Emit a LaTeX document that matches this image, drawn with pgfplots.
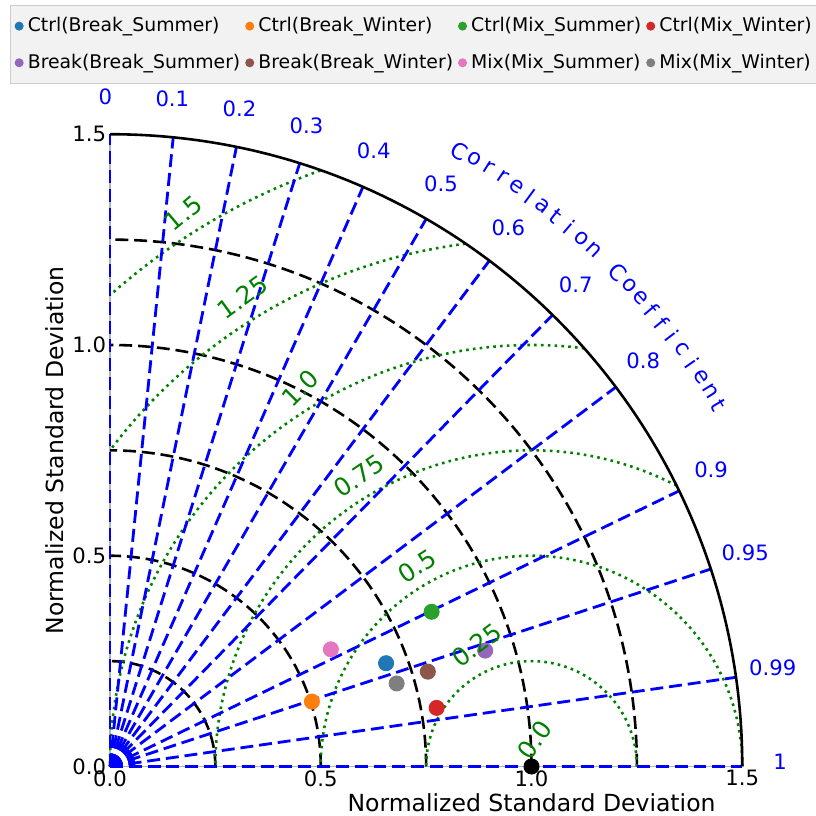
\documentclass[border=0pt]{standalone}
\usepackage{fontspec}
\setmainfont{DejaVu Sans}
\usepackage{pgfplots}
\pgfplotsset{compat=1.18}
\def\tdu{179.14pt}
\definecolor{c1}{HTML}{1F77B4}
\definecolor{c2}{HTML}{FF7F0E}
\definecolor{c3}{HTML}{2CA02C}
\definecolor{c4}{HTML}{D62728}
\definecolor{c5}{HTML}{9467BD}
\definecolor{c6}{HTML}{8C564B}
\definecolor{c7}{HTML}{E377C2}
\definecolor{c8}{HTML}{7F7F7F}
\definecolor{mgreen}{HTML}{008000}
\definecolor{mblue}{HTML}{0000FF}
\begin{document}
\begin{tikzpicture}
\useasboundingbox (-46.75pt,-21.04pt) rectangle (300.05pt,325.76pt);
% ---- grid (behind data) ----
\begin{scope}[x=\tdu,y=\tdu]
  \draw[gray!60, line width=0.6pt] (0,1.5) -- (0,0) -- (1.5,0);
  % std-dev arcs
  \foreach \r in {0.25,0.5,0.75,1.0,1.25}
    \draw[black, line width=1.1pt, dash pattern=on 5.5pt off 2.5pt] (\r,0) arc[start angle=0, end angle=90, radius=\r];
  % RMS arcs
  \foreach \d/\a/\b in {0.25/0/180, 0.5/0/180, 0.75/62.7/180, 1.0/82.8/180, 1.25/97.2/143.1, 1.5/109.5/131.8}
    \draw[mgreen, line width=1.1pt, dash pattern=on 1.1pt off 1.8pt] ([shift={(1,0)}]\a:\d) arc[start angle=\a, end angle=\b, radius=\d];
  % correlation lines
  \foreach \cv in {0,0.1,0.2,0.3,0.4,0.5,0.6,0.7,0.8,0.9,0.95,0.99,1}
    \draw[mblue, line width=1.2pt, dash pattern=on 5.5pt off 2.5pt] (0,0) -- ({acos(\cv)}:1.5);
  \foreach \t in {0,2,...,90}
    \draw[mblue, line width=0.8pt, dash pattern=on 5.5pt off 2.5pt] (0,0) -- (\t:0.06);
  % outer arc
  \draw[black, line width=1.1pt] (1.5,0) arc[start angle=0, end angle=90, radius=1.5];
\end{scope}
\begin{axis}[
  x=\tdu, y=\tdu, scale only axis,
  xmin=0, xmax=1.5, ymin=0, ymax=1.5,
  clip=false,
  axis x line*=bottom, axis y line*=left,
  axis line style={draw=none},
  major tick length=0pt,
  xtick={0,0.5,1,1.5}, xticklabels={0.0,0.5,1.0,1.5},
  ytick={0,0.5,1,1.5}, yticklabels={0.0,0.5,1.0,1.5},
  tick label style={font=\fontsize{9}{10}\selectfont},
  xticklabel style={inner sep=1.5pt},
  yticklabel style={inner sep=1.5pt},
  xlabel={Normalized Standard Deviation},
  ylabel={Normalized Standard Deviation},
  label style={font=\fontsize{10}{12}\selectfont},
  xlabel style={at={(axis description cs:0.6667,-0.0577)}, anchor=center},
  ylabel style={at={(axis description cs:-0.087,0.5)}, anchor=center},
  legend columns=4,
  legend cell align=left,
  legend image code/.code={\draw[#1, mark size=1.7pt] plot coordinates {(0pt,0pt)};},
  legend style={at={(axis description cs:-0.1582,1.2044)}, anchor=north west,
    fill=gray!10, draw=gray!40, font=\fontsize{8}{9.5}\selectfont,
    inner xsep=2pt, inner ysep=3pt, row sep=4pt,
    /tikz/every even column/.append style={column sep=0.3pt}},
]
\addplot[only marks, mark=*, mark size=3.2pt, c1] coordinates {(0.655,0.245)};
\addlegendentry{Ctrl(Break\_Summer)}
\addplot[only marks, mark=*, mark size=3.2pt, c2] coordinates {(0.479,0.154)};
\addlegendentry{Ctrl(Break\_Winter)}
\addplot[only marks, mark=*, mark size=3.2pt, c3] coordinates {(0.763,0.367)};
\addlegendentry{Ctrl(Mix\_Summer)}
\addplot[only marks, mark=*, mark size=3.2pt, c4] coordinates {(0.775,0.139)};
\addlegendentry{Ctrl(Mix\_Winter)}
\addplot[only marks, mark=*, mark size=3.2pt, c5] coordinates {(0.890,0.275)};
\addlegendentry{Break(Break\_Summer)}
\addplot[only marks, mark=*, mark size=3.2pt, c6] coordinates {(0.754,0.225)};
\addlegendentry{Break(Break\_Winter)}
\addplot[only marks, mark=*, mark size=3.2pt, c7] coordinates {(0.524,0.278)};
\addlegendentry{Mix(Mix\_Summer)}
\addplot[only marks, mark=*, mark size=3.2pt, c8] coordinates {(0.680,0.197)};
\addlegendentry{Mix(Mix\_Winter)}
\addplot[only marks, mark=*, mark size=3.2pt, black, forget plot] coordinates {(1.0,0.0)};
\end{axis}
% ---- labels ----
\begin{scope}[x=\tdu,y=\tdu]
  \foreach \cv/\lab in {0/0,0.1/0.1,0.2/0.2,0.3/0.3,0.4/0.4,0.5/0.5,0.6/0.6,0.7/0.7,0.8/0.8,0.9/0.9,0.95/0.95,0.99/0.99,1/1}
    \node[mblue, font=\fontsize{9}{10}\selectfont, inner sep=0pt] at ({acos(\cv)+0.4}:1.59) {\lab};
  \foreach \ch [count=\i from 0] in {C,o,r,r,e,l,a,t,i,o,n,{},C,o,e,f,f,i,c,i,e,n,t} {
    \pgfmathsetmacro\ang{60.4-1.35*\i}
    \node[mblue, rotate=\ang-90, font=\fontsize{9.5}{11}\selectfont, inner sep=0pt] at (\ang:1.68) {\ch};
  }
  \foreach \px/\py/\rot/\lab in {1.008/0.063/55/0.0, 0.870/0.288/37/0.25, 0.729/0.476/33/0.5, 0.591/0.689/34/0.75, 0.451/0.897/45/1.0, 0.314/1.113/36/1.25, 0.174/1.312/40/1.5}
    \node[mgreen, rotate=\rot, font=\fontsize{10.5}{12}\selectfont, inner sep=0pt] at (\px,\py) {\lab};
\end{scope}
\end{tikzpicture}
\end{document}
